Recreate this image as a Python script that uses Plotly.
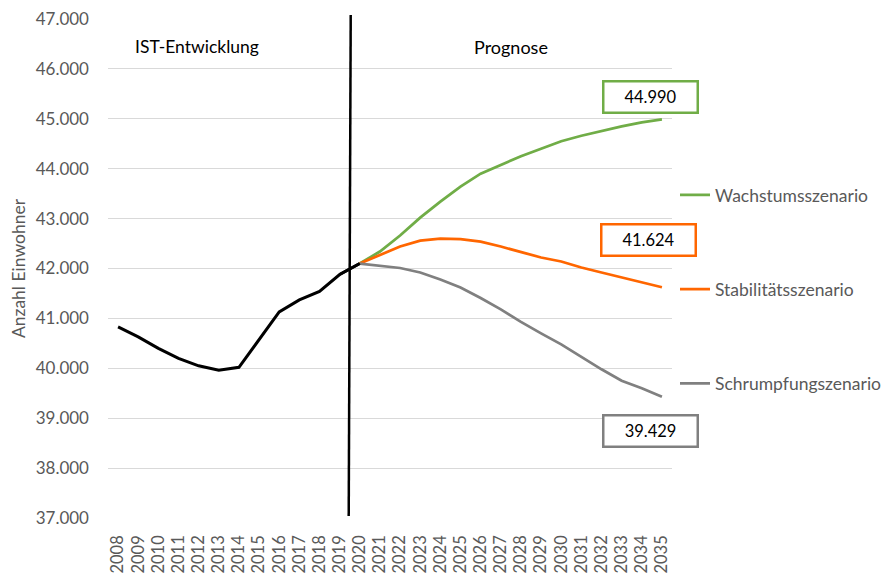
import plotly.graph_objects as go

years = [str(y) for y in range(2008, 2036)]
hist_years = [str(y) for y in range(2008, 2021)]
hist_values = [40830, 40630, 40400, 40200, 40050, 39960, 40020, 40570, 41130, 41370, 41540, 41880, 42100]

prog_years = [str(y) for y in range(2020, 2036)]
wachstum = [42100, 42340, 42660, 43020, 43340, 43640, 43900, 44080, 44250, 44400, 44550, 44660, 44760, 44850, 44930, 44990]
stabilitaet = [42100, 42270, 42440, 42560, 42600, 42590, 42540, 42440, 42330, 42220, 42140, 42020, 41920, 41820, 41720, 41624]
schrumpfung = [42100, 42050, 42010, 41920, 41780, 41620, 41410, 41180, 40930, 40700, 40480, 40230, 39980, 39750, 39600, 39429]

series_names = ["Wachstumsszenario", "Stabilitätsszenario", "Schrumpfungszenario"]
series_values = [wachstum, stabilitaet, schrumpfung]
series_colors = ["#70AD47", "#FF6600", "#808080"]
end_labels = ["44.990", "41.624", "39.429"]

FONT = "Lato"
GRAY = "#595959"

# The page body adds an 8px offset; the figure is sized so the plot area lands at
# screen x 108..672, y 19..518.
OFF = 8
W, H = 890 - OFF, 574 - OFF
PL, PR, PT, PB = 108, 672, 19, 518

def px(x):
    return (x - PL) / (PR - PL)

def py(y):
    return (PB - y) / (PB - PT)

fig = go.Figure()

fig.add_trace(go.Scatter(
    x=hist_years, y=hist_values, mode="lines",
    line=dict(color="#000000", width=3), showlegend=False, name="IST"))

for name, vals, col in zip(series_names, series_values, series_colors):
    fig.add_trace(go.Scatter(
        x=prog_years, y=vals, mode="lines", name=name, legendgroup=name,
        line=dict(color=col, width=2.75)))

fig.add_trace(go.Scatter(
    x=hist_years[-2:], y=hist_values[-2:], mode="lines",
    line=dict(color="#000000", width=3), showlegend=False, hoverinfo="skip"))

fig.update_layout(
    width=W, height=H,
    margin=dict(l=PL - OFF, r=890 - PR, t=PT - OFF, b=574 - PB),
    plot_bgcolor="white", paper_bgcolor="white",
    separators=",.",
    font=dict(family=FONT, size=17, color=GRAY),
    legend=dict(
        xref="container", yref="container",
        x=(675 - OFF) / W, xanchor="left",
        y=(574 - 177) / H, yanchor="top",
        traceorder="grouped", tracegroupgap=68.5,
        font=dict(family=FONT, size=17.5, color=GRAY),
        bgcolor="rgba(0,0,0,0)"),
    xaxis=dict(
        type="category", categoryorder="array", categoryarray=years,
        range=[-0.5, 27.5], automargin=False,
        tickmode="linear", tick0=0, dtick=1,
        tickangle=-90, showgrid=False, showline=False, zeroline=False,
        tickfont=dict(family=FONT, size=16.5, color=GRAY),
        ticklabelstandoff=13, ticklabeloverflow="allow"),
    yaxis=dict(
        range=[37000, 47000], dtick=1000, tickformat=",d", automargin=False,
        showgrid=True, gridcolor="#D9D9D9", gridwidth=1,
        zeroline=False, showline=False,
        tickfont=dict(family=FONT, size=17, color=GRAY),
        ticklabelstandoff=18, ticklabeloverflow="allow",
        title=dict(text="Anzahl Einwohner", font=dict(family=FONT, size=17.5, color=GRAY), standoff=6)),
)

fig.add_shape(type="line", xref="x", yref="paper",
              x0=11.45, x1=11.55, y0=py(516), y1=py(15),
              line=dict(color="#000000", width=2.5), layer="above")

fig.add_annotation(text="IST-Entwicklung", xref="paper", yref="paper",
                   x=px(197), y=py(47), xanchor="center", yanchor="middle",
                   showarrow=False, font=dict(family=FONT, size=17.5, color="#000000"))
fig.add_annotation(text="Prognose", xref="paper", yref="paper",
                   x=px(511), y=py(47), xanchor="center", yanchor="middle",
                   showarrow=False, font=dict(family=FONT, size=18, color="#000000"))

box_pos = [(650, 97), (648.5, 239.5), (650, 430.5)]
for lbl, col, (bx, by) in zip(end_labels, series_colors, box_pos):
    fig.add_annotation(text=lbl, xref="paper", yref="paper",
                       x=px(bx), y=py(by), xanchor="center", yanchor="middle",
                       showarrow=False,
                       width=92, height=29, borderpad=0,
                       bordercolor=col, borderwidth=2.5, bgcolor="white",
                       font=dict(family=FONT, size=16.5, color="#000000"))

fig.write_html("out.html")
